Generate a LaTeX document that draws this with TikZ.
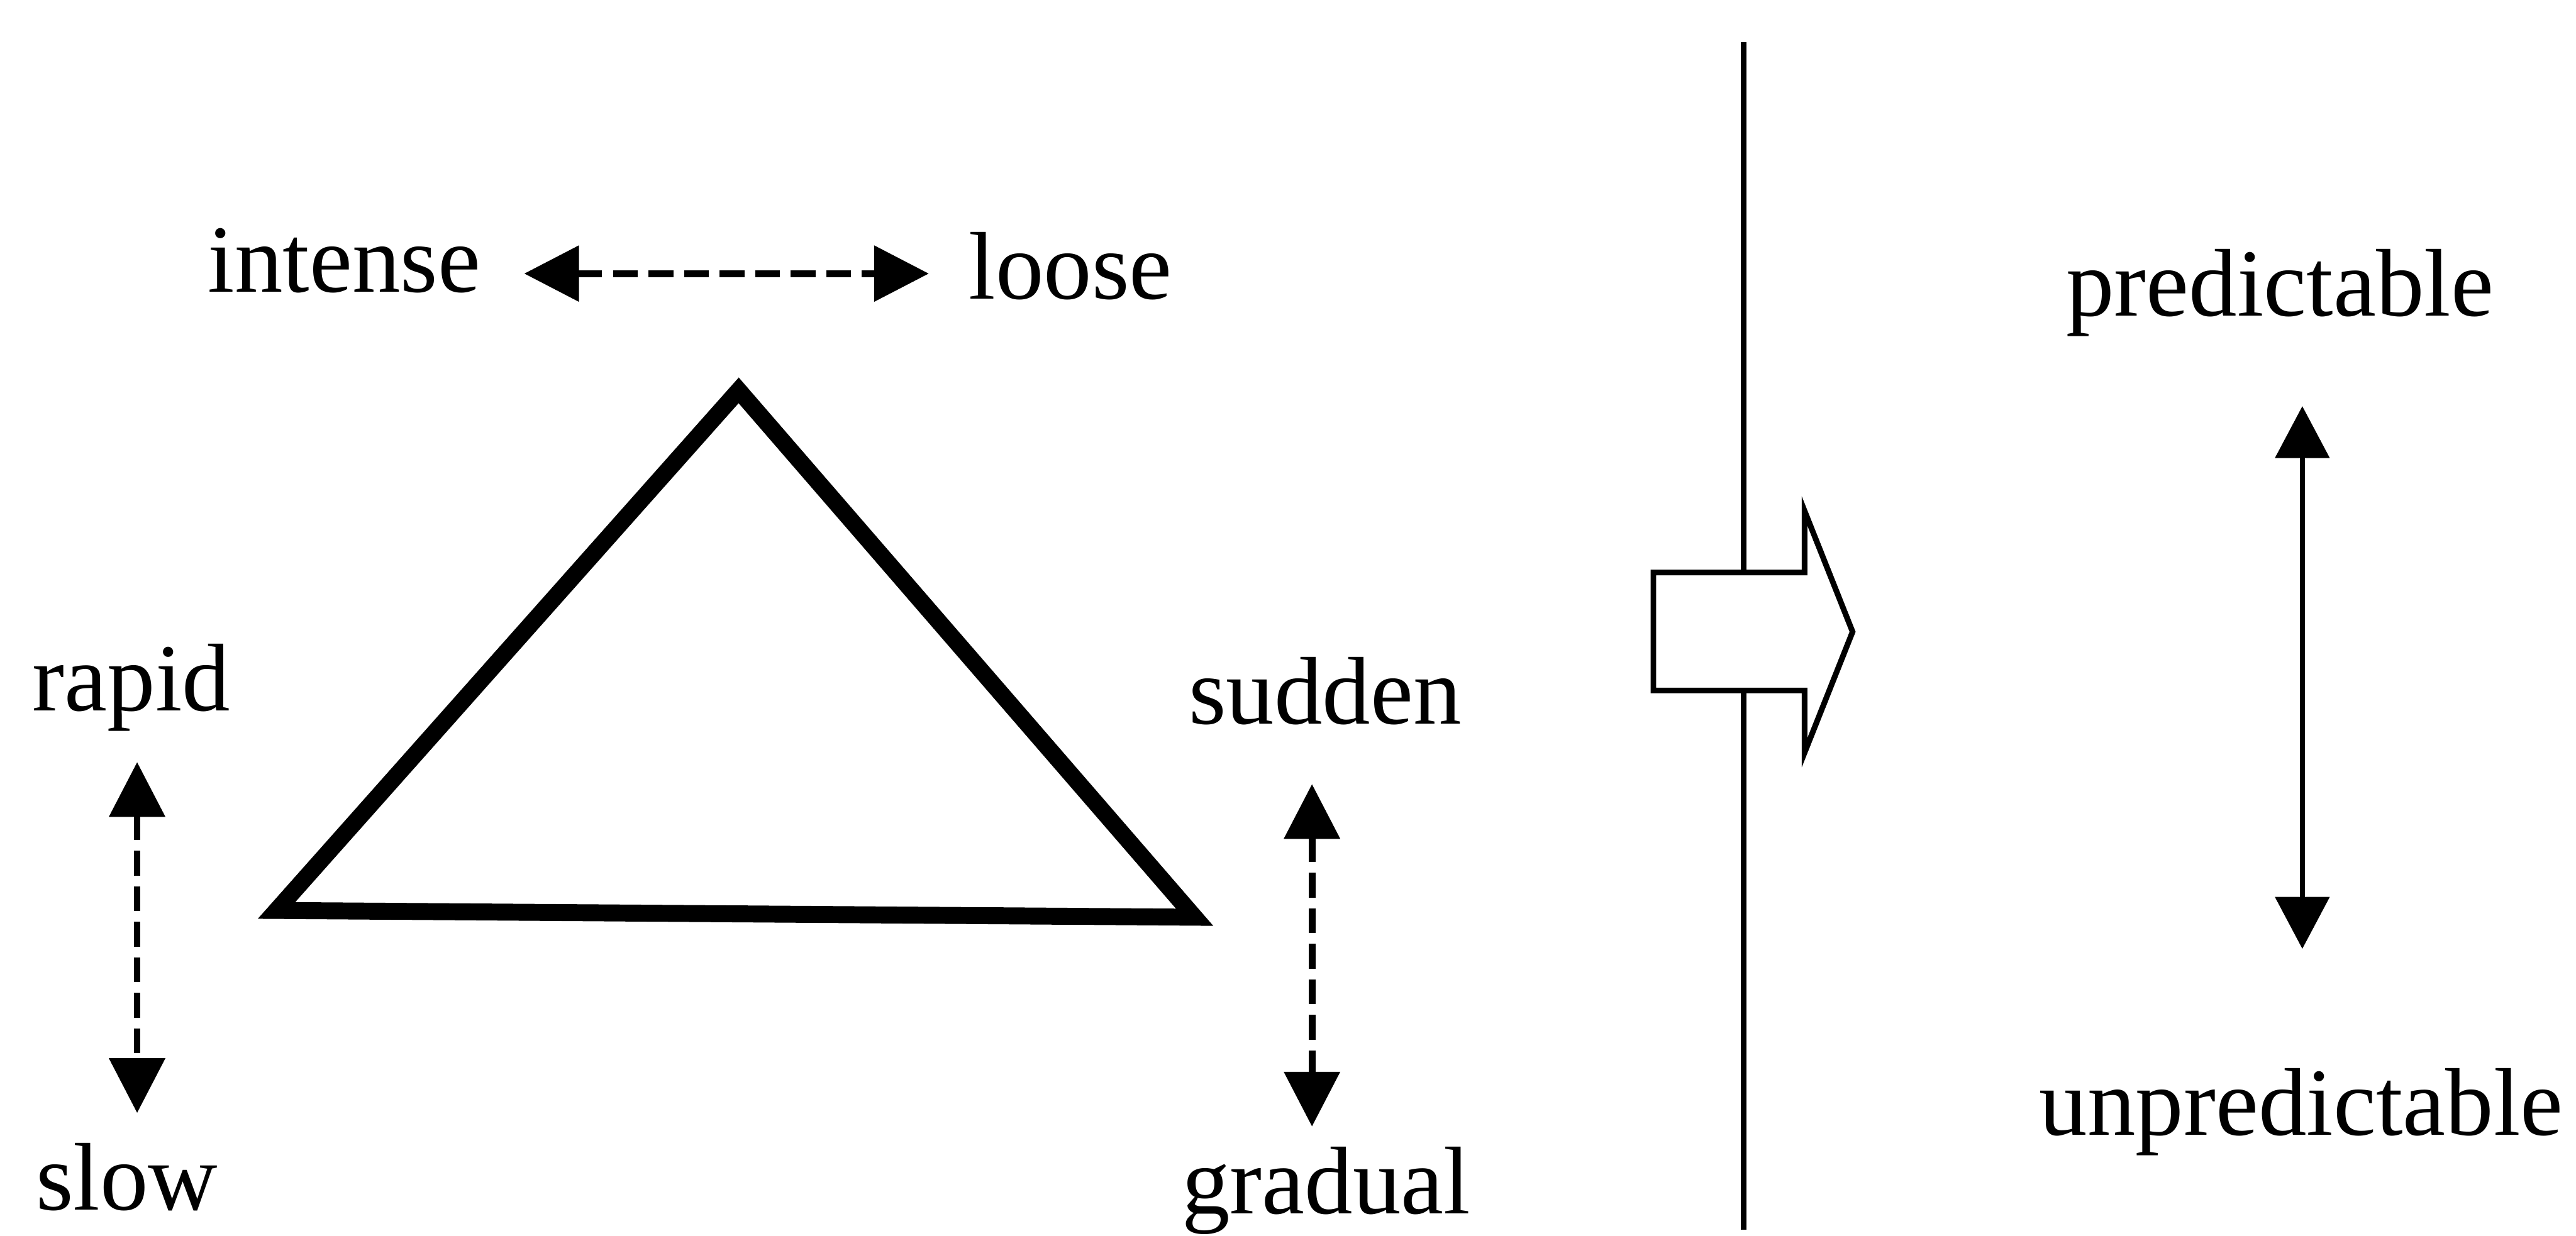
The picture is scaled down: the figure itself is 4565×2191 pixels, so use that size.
\documentclass[tikz,border=0pt]{standalone}
\usepackage{fontspec}
\setmainfont{Liberation Serif}
\usetikzlibrary{arrows.meta}
\begin{document}
\begin{tikzpicture}[x=0.01cm,y=-0.01cm,
  lbl/.style={inner sep=0pt, anchor=base, font=\fontsize{48.5}{58}\selectfont},
  dasharrow/.style={line width=0.12cm, dash pattern=on 0.44cm off 0.19cm,
    {Triangle[length=0.97cm,width=0.97cm]}-{Triangle[length=0.97cm,width=0.97cm]}},
  solidarrow/.style={line width=0.09cm,
    {Triangle[length=0.92cm,width=0.95cm]}-{Triangle[length=0.92cm,width=0.95cm]}},
  tri/.style={line width=0.30cm, line join=miter},
  divider/.style={line width=0.10cm},
  blockarrow/.style={line width=0.10cm, line join=miter, fill=white}]
\useasboundingbox (0,0) rectangle (4565,2191);

% labels
\node[lbl] (intense) at (610,518) {intense};
\node[lbl] (loose) at (1897,530) {loose};
\node[lbl] (rapid) at (233,1260) {rapid};
\node[lbl] (slow) at (225,2145) {slow};
\node[lbl] (sudden) at (2348,1283) {sudden};
\node[lbl] (gradual) at (2350,2152) {gradual};
\node[lbl] (predictable) at (4040,560) {predictable};
\node[lbl] (unpredictable) at (4078,2012) {unpredictable};

% arrow end points
\coordinate (hL) at (929,485);
\coordinate (hR) at (1646,485);
\coordinate (lT) at (243,1351);
\coordinate (lB) at (243,1973);
\coordinate (rT) at (2325,1390);
\coordinate (rB) at (2325,1997);
\coordinate (pT) at (4080,720);
\coordinate (pB) at (4080,1682);

\draw[dasharrow] (hL) -- (hR);
\draw[dasharrow] (lT) -- (lB);
\draw[dasharrow] (rT) -- (rB);
\draw[solidarrow] (pT) -- (pB);

% triangle
\coordinate (apex) at (1309,692);
\coordinate (bl) at (490,1614);
\coordinate (br) at (2117,1626);
\draw[tri] (apex) -- (br) -- (bl) -- cycle;

% divider and block arrow
\coordinate (dTop) at (3090,75);
\coordinate (dBot) at (3090,2180);
\draw[divider] (dTop) -- (dBot);
\draw[blockarrow] (2930,1015) -- (3198,1015) -- (3198,906) -- (3283,1120)
  -- (3198,1334) -- (3198,1224) -- (2930,1224) -- cycle;
\end{tikzpicture}
\end{document}
